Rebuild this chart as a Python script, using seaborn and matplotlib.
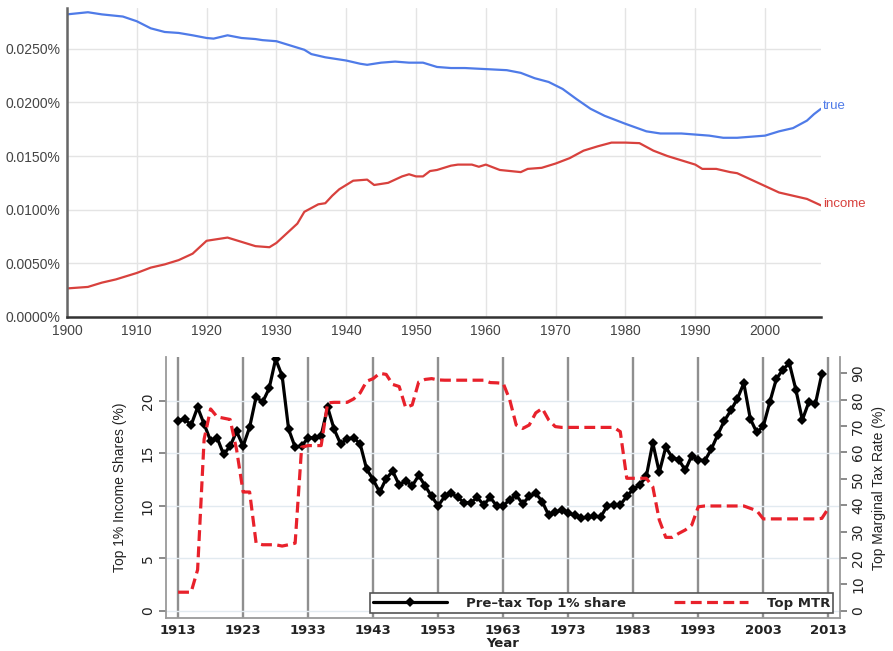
import matplotlib
matplotlib.use("Agg")
import matplotlib.pyplot as plt
import seaborn as sns
from matplotlib.lines import Line2D
from matplotlib.ticker import FuncFormatter

# ---- top panel: word frequency (Ngram style) ----
true_years = [1900, 1903, 1905, 1908, 1910, 1912, 1914, 1916, 1918, 1920,
              1921, 1923, 1925, 1927, 1928, 1930, 1932, 1934, 1935, 1937,
              1938, 1940, 1942, 1943, 1945, 1947, 1949, 1951, 1953, 1955,
              1957, 1960, 1963, 1965, 1967, 1969, 1971, 1973, 1975, 1977,
              1980, 1983, 1985, 1988, 1990, 1992, 1994, 1996, 1998, 2000,
              2002, 2004, 2006, 2007, 2008]
true_freq = [0.0282, 0.0284, 0.0282, 0.0280, 0.02756, 0.0269, 0.02656, 0.02647, 0.02625, 0.0260,
             0.02594, 0.02625, 0.0260, 0.0259, 0.0258, 0.0257, 0.0253, 0.0249, 0.0245, 0.0242,
             0.0241, 0.0239, 0.0236, 0.0235, 0.0237, 0.0238, 0.0237, 0.0237, 0.0233, 0.0232,
             0.0232, 0.0231, 0.0230, 0.02275, 0.02225, 0.0219, 0.02125, 0.0203, 0.0194, 0.01875,
             0.0180, 0.0173, 0.0171, 0.0171, 0.0170, 0.0169, 0.0167, 0.0167, 0.0168, 0.0169,
             0.0173, 0.0176, 0.0183, 0.0189, 0.0194]

income_years = [1900, 1903, 1905, 1907, 1909, 1910, 1912, 1914, 1916, 1918,
                1920, 1921, 1923, 1925, 1927, 1929, 1930, 1932, 1933, 1934,
                1936, 1937, 1938, 1939, 1941, 1943, 1944, 1946, 1948, 1949,
                1950, 1951, 1952, 1953, 1955, 1956, 1958, 1959, 1960, 1962,
                1965, 1966, 1968, 1970, 1972, 1974, 1976, 1978, 1980, 1982,
                1984, 1986, 1988, 1990, 1991, 1993, 1995, 1996, 1998, 2000,
                2002, 2004, 2006, 2007, 2008]
income_freq = [0.00266, 0.0028, 0.0032, 0.0035, 0.0039, 0.0041, 0.0046, 0.0049, 0.0053, 0.0059,
               0.0071, 0.0072, 0.0074, 0.0070, 0.0066, 0.0065, 0.0069, 0.0081, 0.0087, 0.0098,
               0.0105, 0.0106, 0.0113, 0.0119, 0.0127, 0.0128, 0.0123, 0.0125, 0.0131, 0.0133,
               0.0131, 0.0131, 0.0136, 0.0137, 0.0141, 0.0142, 0.0142, 0.0140, 0.0142, 0.0137,
               0.0135, 0.0138, 0.0139, 0.0143, 0.0148, 0.0155, 0.0159, 0.01625, 0.01625, 0.0162,
               0.0155, 0.0150, 0.0146, 0.0142, 0.0138, 0.0138, 0.0135, 0.0134, 0.0128, 0.0122,
               0.0116, 0.0113, 0.0110, 0.0107, 0.0104]

top_yticks = [0.0, 0.005, 0.010, 0.015, 0.020, 0.025]
top_xticks = list(range(1900, 2001, 10))

# ---- bottom panel: top 1% share vs top marginal tax rate ----
share_years = list(range(1913, 2013))
top1_share = [18.1, 18.3, 17.7, 19.4, 17.8, 16.2, 16.5, 14.9, 15.7, 17.1,
              15.7, 17.5, 20.4, 19.9, 21.2, 24.0, 22.4, 17.3, 15.6, 15.7,
              16.5, 16.5, 16.7, 19.4, 17.3, 15.9, 16.4, 16.5, 15.9, 13.5,
              12.5, 11.3, 12.6, 13.3, 12.0, 12.4, 11.9, 12.9, 11.9, 10.9,
              10.0, 10.9, 11.2, 10.8, 10.3, 10.3, 10.8, 10.1, 10.8, 10.0,
              10.0, 10.6, 11.0, 10.2, 10.9, 11.2, 10.4, 9.1, 9.4, 9.6,
              9.3, 9.1, 8.85, 8.9, 9.0, 8.95, 10.0, 10.1, 10.1, 10.9,
              11.6, 12.0, 12.8, 16.0, 13.2, 15.6, 14.6, 14.4, 13.4, 14.8,
              14.4, 14.3, 15.4, 16.8, 18.1, 19.1, 20.2, 21.7, 18.3, 17.0,
              17.6, 19.9, 22.1, 23.0, 23.6, 21.1, 18.2, 19.9, 19.7, 22.6]

mtr_years = list(range(1913, 2014))
top_mtr = [7, 7, 7, 15.5, 65, 76.5, 73.5, 73, 72.5, 61,
           45, 45, 25.6, 25, 25, 25, 24.5, 25, 25.6, 62,
           62.6, 62.6, 62.6, 78.8, 79, 79, 79, 80.3, 82.6, 87,
           88, 90, 89.6, 85.8, 85, 77, 78, 86.7, 87.7, 88,
           87.5, 87.4, 87.4, 87.4, 87.4, 87.4, 87.4, 87.4, 86.5, 86.4,
           86.2, 80, 70.4, 69.1, 70.4, 75, 76.7, 72.3, 69.8, 69.5,
           69.5, 69.5, 69.5, 69.5, 69.5, 69.5, 69.5, 69.5, 67.9, 50.2,
           50.2, 50.2, 50.2, 47, 34.4, 27.8, 27.8, 29.3, 30.6, 32.5,
           39.4, 39.7, 39.7, 39.7, 39.7, 39.7, 39.7, 39.7, 38.8, 37.9,
           34.8, 34.8, 34.8, 34.8, 34.8, 34.8, 34.8, 34.8, 34.8, 35,
           38.8]

bot_xticks = list(range(1913, 2014, 10))
share_ticks = [0, 5, 10, 15, 20]
mtr_ticks = list(range(0, 91, 10))

BLUE = "#4f7be8"
RED_TOP = "#d8413d"
RED_MTR = "#e8212b"
NARROW = ["Liberation Sans Narrow", "Liberation Sans", "DejaVu Sans"]

sns.set_style("white")
plt.rcParams["font.family"] = ["DejaVu Sans"]

fig = plt.figure(figsize=(8.93, 6.51), dpi=100)

# top panel
ax = fig.add_axes([0.0750, 0.5131, 0.8443, 0.4747])
sns.lineplot(x=true_years, y=true_freq, ax=ax, color=BLUE, lw=1.6)
sns.lineplot(x=income_years, y=income_freq, ax=ax, color=RED_TOP, lw=1.6)
ax.set_xlim(1900, 2008)
ax.set_ylim(0, 0.0288)
ax.set_xticks(top_xticks)
ax.set_yticks(top_yticks)
ax.yaxis.set_major_formatter(FuncFormatter(lambda v, p: f"{v:.4f}%"))
ax.grid(True, color="#e4e4e4", lw=1)
for s in ["top", "right"]:
    ax.spines[s].set_visible(False)
ax.spines["left"].set_color("#666666")
ax.spines["left"].set_linewidth(1.8)
ax.spines["bottom"].set_color("#333333")
ax.spines["bottom"].set_linewidth(1.8)
ax.tick_params(axis="both", direction="out", length=3, width=1, color="#555555",
               labelcolor="#444444", labelsize=10, pad=2)
for lab in ax.get_xticklabels() + ax.get_yticklabels():
    lab.set_family(NARROW)
ax.set_xlabel("")
ax.set_ylabel("")
ax.text(2008.3, 0.0197, "true", color=BLUE, fontsize=9.5, family=NARROW,
        va="center", ha="left", clip_on=False)
ax.text(2008.3, 0.01055, "income", color=RED_TOP, fontsize=9.5, family=NARROW,
        va="center", ha="left", clip_on=False)

# bottom panel
ax = fig.add_axes([0.1856, 0.0507, 0.7551, 0.4009])
ax2 = ax.twinx()
sns.lineplot(x=share_years, y=top1_share, ax=ax, color="black", lw=2.3,
             marker="D", markersize=4.8, markeredgewidth=0)
sns.lineplot(x=mtr_years, y=top_mtr, ax=ax2, color=RED_MTR, lw=2.3)
ax2.lines[0].set_linestyle((0, (3.4, 1.7)))

ax.set_xlim(1911.1, 2014.8)
ax.set_ylim(-0.7, 24.2)
ax2.set_ylim(-0.7 * 3.975, 24.2 * 3.975)
ax.set_xticks(bot_xticks)
ax.set_yticks(share_ticks)
ax2.set_yticks(mtr_ticks)

ax.grid(False)
ax2.grid(False)
for x in bot_xticks:
    ax.axvline(x, color="#8f8f8f", lw=1.7, zorder=0)
for y in share_ticks:
    ax.axhline(y, color="#e2eaf0", lw=1, zorder=0)

for a in (ax, ax2):
    a.spines["top"].set_visible(False)
    for s in ["left", "bottom", "right"]:
        a.spines[s].set_color("#9a9a9a")
        a.spines[s].set_linewidth(1.3)
ax.spines["right"].set_visible(False)
ax2.spines["left"].set_visible(False)
ax2.spines["bottom"].set_visible(False)

ax.tick_params(axis="x", direction="out", length=4, width=1.2, color="#777777",
               labelsize=9.5, labelcolor="#222222", pad=0.5)
ax.tick_params(axis="y", direction="out", length=5, width=1.2, color="#777777",
               labelsize=10, labelcolor="#222222", labelrotation=90, pad=3)
ax2.tick_params(axis="y", direction="out", length=5, width=1.2, color="#777777",
                labelsize=10, labelcolor="#222222", labelrotation=90, pad=3)
for lab in ax.get_xticklabels():
    lab.set_fontweight("semibold")
for lab in ax.get_yticklabels() + ax2.get_yticklabels():
    lab.set_va("center")

ax.set_xlabel("Year", fontsize=9.5, color="#222222", fontweight="semibold")
ax.xaxis.set_label_coords(0.5, -0.071)
ax.set_ylabel("Top 1% Income Shares (%)", fontsize=10, color="#222222", family=NARROW)
ax.yaxis.set_label_coords(-0.058, 0.5)
ax2.set_ylabel("Top Marginal Tax Rate (%)", fontsize=10, color="#222222", family=NARROW)
ax2.yaxis.set_label_coords(1.047, 0.5)

handles = [
    Line2D([0, 0.5, 1], [0, 0, 0], color="black", lw=2.3, marker="D", markersize=4.8,
           markeredgewidth=0, markevery=[1]),
    Line2D([], [], color=RED_MTR, lw=2.3, linestyle=(0, (3.4, 1.7))),
]
leg = ax2.legend(handles, ["Pre\u2013tax Top 1% share", "Top MTR"], ncol=2,
                 loc="lower left", bbox_to_anchor=(0.303, 0.019, 0.687, 0.077),
                 mode="expand", handlelength=5.6, handletextpad=1.4,
                 borderpad=0.25, fancybox=False, framealpha=1, edgecolor="#555555",
                 borderaxespad=0, columnspacing=2.5,
                 prop={"size": 9.5, "weight": "semibold"})
leg.get_frame().set_linewidth(1.2)

fig.savefig("out.png", dpi=100)
